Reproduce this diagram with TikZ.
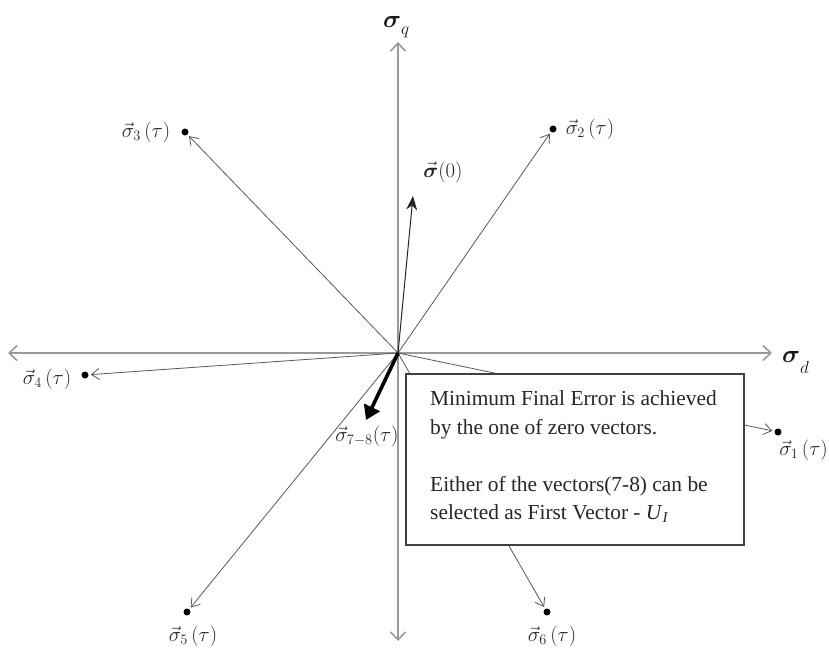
\documentclass[tikz,border=0pt]{standalone}
\usepackage{fontspec}
\newfontfamily\boxfont{Liberation Serif}
\usepackage{bm}
\usetikzlibrary{arrows.meta}
\begin{document}
\begin{tikzpicture}[x=1pt,y=-1pt,
  axisline/.style={draw=black!40, line width=1.6pt, {Straight Barb[length=8pt,width=15pt]}-{Straight Barb[length=8pt,width=15pt]}},
  vecline/.style={draw=black!65, line width=0.8pt, -{Straight Barb[length=8pt,width=11pt]}, shorten >=2pt},
  dotnode/.style={circle, fill=black, inner sep=0pt, minimum size=7pt},
  lab/.style={font=\fontsize{22.5}{26}\selectfont, inner sep=0pt, text=black!85},
  axlab/.style={inner sep=0pt, text=black!90}]
\useasboundingbox (0,0) rectangle (829,654);
\fill[white] (0,0) rectangle (829,654);
% origin and axis ends
\coordinate (O) at (398,353);
\coordinate (ytop) at (398,42);
\coordinate (ybot) at (398,641);
\coordinate (xleft) at (8,353);
\coordinate (xright) at (772,353);
\draw[axisline] (ybot) -- (ytop);
\draw[axisline] (xleft) -- (xright);
% dots
\node[dotnode] (d1) at (778,432) {};
\node[dotnode] (d2) at (553,129) {};
\node[dotnode] (d3) at (185,132) {};
\node[dotnode] (d4) at (85,375) {};
\node[dotnode] (d5) at (187,612) {};
\node[dotnode] (d6) at (547,612) {};
% vectors
\draw[vecline] (O) -- (d1);
\draw[vecline] (O) -- (d2);
\draw[vecline] (O) -- (d3);
\draw[vecline] (O) -- (d4);
\draw[vecline] (O) -- (d5);
\draw[vecline] (O) -- (d6);
% note box
\node[draw=black!75, line width=2.2pt, fill=white, minimum width=338pt, minimum height=171pt, inner sep=0pt] (note) at (575,459.5) {};
\node[anchor=north west, inner sep=0pt, align=left, text=black!85, font=\boxfont\fontsize{21.4}{28.5}\selectfont] (notetext) at (430,390.5)
  {Minimum Final Error is achieved\\ by the one of zero vectors.\\[28.5pt] Either of the vectors(7-8) can be\\ selected as First Vector - \textit{U}\textsubscript{\textit{I}}};
% initial vector and first vector
\coordinate (s0) at (413,196);
\draw[draw=black!85, line width=1pt, -{Stealth[length=14pt,width=11pt]}] (O) -- (s0);
\coordinate (s78) at (366,420);
\draw[black, line width=3.6pt, -{Triangle[length=14pt,width=17pt]}] (O) -- (s78);
% labels
\node[axlab, anchor=base west] (lq) at (383,27) {\fontsize{40}{46}\selectfont$\bm\sigma$\raisebox{-7pt}{\fontsize{18}{20}\selectfont$q$}};
\node[axlab, anchor=base west] (ld) at (782,362) {\fontsize{38}{44}\selectfont$\bm\sigma$\raisebox{-11pt}{\fontsize{17}{20}\selectfont$d$}};
\node[lab] (l0) at (443,172) {$\vec{\bm\sigma}(0)$};
\node[lab, anchor=east, font=\fontsize{21}{25}\selectfont] (l1) at (828,450) {$\vec{\sigma}_1\,(\tau)$};
\node[lab] (l2) at (590,129) {$\vec{\sigma}_2\,(\tau)$};
\node[lab] (l3) at (146,132) {$\vec{\sigma}_3\,(\tau)$};
\node[lab] (l4) at (47,379) {$\vec{\sigma}_4\,(\tau)$};
\node[lab] (l5) at (193,636) {$\vec{\sigma}_5\,(\tau)$};
\node[lab] (l6) at (552,636) {$\vec{\sigma}_6\,(\tau)$};
\node[lab, font=\fontsize{21}{25}\selectfont] (l78) at (367,436) {$\vec{\sigma}_{7-8}(\tau)$};
\end{tikzpicture}
\end{document}
